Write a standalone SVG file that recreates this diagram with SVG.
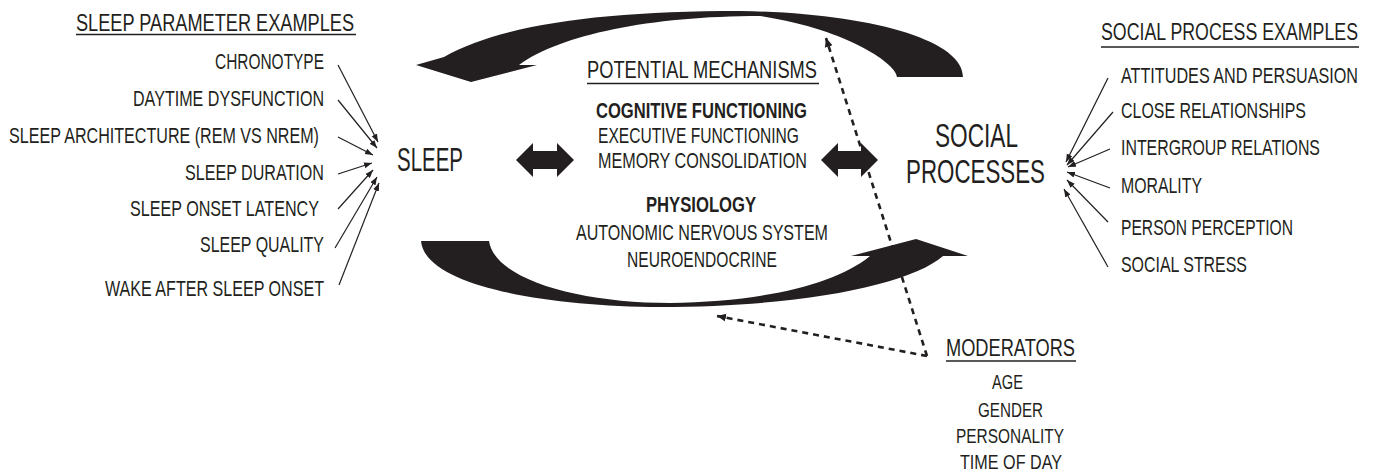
<svg xmlns="http://www.w3.org/2000/svg" width="1375" height="474" viewBox="0 0 1375 474">
<style>
text{font-family:"Liberation Sans",Arial,sans-serif;fill:#231f20;}
.hd{font-size:23.5px;}
.it{font-size:22px;}
.md{font-size:20.5px;}
.bd{font-size:22px;font-weight:bold;}
.big{font-size:33px;}
.ul{stroke:#231f20;stroke-width:1.3;}
.thin{stroke:#231f20;stroke-width:1.2;fill:none;marker-end:url(#sm);}
.dot{stroke:#231f20;stroke-width:2.6;fill:none;stroke-dasharray:6 5;marker-end:url(#dm);}
.solid{fill:#231f20;}
</style>
<defs>
<marker id="sm" markerUnits="userSpaceOnUse" markerWidth="9" markerHeight="7" refX="8" refY="3.5" orient="auto">
<path d="M0,0.5 L8,3.5 L0,6.5 Z" fill="#231f20"/>
</marker>
<marker id="dm" markerUnits="userSpaceOnUse" markerWidth="11" markerHeight="9" refX="9" refY="4.5" orient="auto">
<path d="M0,0.5 L9,4.5 L0,8.5 Z" fill="#231f20"/>
</marker>
</defs>
<rect width="1375" height="474" fill="#ffffff"/>

<g id="connectors">
<path class="solid" d="M963,77 L897,77 C897,65 850,30 760,16 C650,16 560,35 519,65 L537,65 L471,82 L416,65 L444,57 C500,25 600,11 740,11 C870,13 963,40 963,77 Z"/>
<path class="solid" d="M421,241 L489,241 C495,280 580,303 670,303 C760,302 835,285 870,256 L851,256 L916,239 L968,256 L943,256 C910,285 800,307 660,307 C540,306 425,285 421,241 Z"/>
<path class="solid" d="M516,160 L533,143 L533,151 L557,151 L557,143 L574,160 L557,177 L557,169 L533,169 L533,177 Z"/>
<path class="solid" d="M821,160 L838,143 L838,151 L861,151 L861,143 L878,160 L861,177 L861,169 L838,169 L838,177 Z"/>
<line class="thin" x1="338" y1="65" x2="378" y2="142"/>
<line class="thin" x1="338" y1="100" x2="377" y2="148"/>
<line class="thin" x1="338" y1="137" x2="373" y2="155"/>
<line class="thin" x1="338" y1="174" x2="372" y2="163"/>
<line class="thin" x1="338" y1="209" x2="373" y2="170"/>
<line class="thin" x1="335" y1="248" x2="377" y2="177"/>
<line class="thin" x1="339" y1="285" x2="379" y2="183"/>
<line class="thin" x1="1108" y1="78" x2="1066" y2="162"/>
<line class="thin" x1="1113" y1="112" x2="1067" y2="165"/>
<line class="thin" x1="1110" y1="149" x2="1068" y2="167"/>
<line class="thin" x1="1110" y1="188" x2="1067" y2="172"/>
<line class="thin" x1="1108" y1="222" x2="1067" y2="180"/>
<line class="thin" x1="1108" y1="267" x2="1064" y2="189"/>
<path class="dot" d="M927,356 L826,38"/>
<path class="dot" d="M927,356 L717,316"/>
</g>

<g id="sleep-parameters">
<text class="hd" transform="translate(76,31) scale(0.75,1)" textLength="370.7" lengthAdjust="spacingAndGlyphs">SLEEP PARAMETER EXAMPLES</text>
<line class="ul" x1="76" y1="34.5" x2="356" y2="34.5"/>
<text class="it" transform="translate(215,69) scale(0.75,1)" textLength="145.3" lengthAdjust="spacingAndGlyphs">CHRONOTYPE</text>
<text class="it" transform="translate(133,106) scale(0.75,1)" textLength="254.7" lengthAdjust="spacingAndGlyphs">DAYTIME DYSFUNCTION</text>
<text class="it" transform="translate(9,143) scale(0.75,1)" textLength="413.3" lengthAdjust="spacingAndGlyphs">SLEEP ARCHITECTURE (REM VS NREM)</text>
<text class="it" transform="translate(185,180) scale(0.75,1)" textLength="185.3" lengthAdjust="spacingAndGlyphs">SLEEP DURATION</text>
<text class="it" transform="translate(130,216) scale(0.75,1)" textLength="252" lengthAdjust="spacingAndGlyphs">SLEEP ONSET LATENCY</text>
<text class="it" transform="translate(200,252) scale(0.75,1)" textLength="165.3" lengthAdjust="spacingAndGlyphs">SLEEP QUALITY</text>
<text class="it" transform="translate(105,296) scale(0.75,1)" textLength="292" lengthAdjust="spacingAndGlyphs">WAKE AFTER SLEEP ONSET</text>
</g>

<g id="sleep">
<text class="big" transform="translate(397,171) scale(0.75,1)" textLength="88" lengthAdjust="spacingAndGlyphs">SLEEP</text>
</g>

<g id="mechanisms">
<text class="hd" transform="translate(587,78) scale(0.75,1)" textLength="306.7" lengthAdjust="spacingAndGlyphs">POTENTIAL MECHANISMS</text>
<line class="ul" x1="587" y1="83.5" x2="819" y2="83.5"/>
<text class="bd" transform="translate(596,118) scale(0.75,1)" textLength="281.3" lengthAdjust="spacingAndGlyphs">COGNITIVE FUNCTIONING</text>
<text class="it" transform="translate(598,143) scale(0.75,1)" textLength="268" lengthAdjust="spacingAndGlyphs">EXECUTIVE FUNCTIONING</text>
<text class="it" transform="translate(598,168) scale(0.75,1)" textLength="278.7" lengthAdjust="spacingAndGlyphs">MEMORY CONSOLIDATION</text>
<text class="bd" transform="translate(646,212) scale(0.75,1)" textLength="146.7" lengthAdjust="spacingAndGlyphs">PHYSIOLOGY</text>
<text class="it" transform="translate(576,240) scale(0.75,1)" textLength="336" lengthAdjust="spacingAndGlyphs">AUTONOMIC NERVOUS SYSTEM</text>
<text class="it" transform="translate(627,267) scale(0.75,1)" textLength="200" lengthAdjust="spacingAndGlyphs">NEUROENDOCRINE</text>
</g>

<g id="social-processes">
<text class="big" transform="translate(935,147) scale(0.75,1)" textLength="110.7" lengthAdjust="spacingAndGlyphs">SOCIAL</text>
<text class="big" transform="translate(906,183) scale(0.75,1)" textLength="185.3" lengthAdjust="spacingAndGlyphs">PROCESSES</text>
</g>

<g id="social-examples">
<text class="hd" transform="translate(1101,40) scale(0.75,1)" textLength="342.7" lengthAdjust="spacingAndGlyphs">SOCIAL PROCESS EXAMPLES</text>
<line class="ul" x1="1101" y1="47" x2="1359" y2="47"/>
<text class="it" transform="translate(1121,83) scale(0.75,1)" textLength="316" lengthAdjust="spacingAndGlyphs">ATTITUDES AND PERSUASION</text>
<text class="it" transform="translate(1121,118) scale(0.75,1)" textLength="246.7" lengthAdjust="spacingAndGlyphs">CLOSE RELATIONSHIPS</text>
<text class="it" transform="translate(1121,155) scale(0.75,1)" textLength="265.3" lengthAdjust="spacingAndGlyphs">INTERGROUP RELATIONS</text>
<text class="it" transform="translate(1121,193) scale(0.75,1)" textLength="108" lengthAdjust="spacingAndGlyphs">MORALITY</text>
<text class="it" transform="translate(1121,235) scale(0.75,1)" textLength="229.3" lengthAdjust="spacingAndGlyphs">PERSON PERCEPTION</text>
<text class="it" transform="translate(1121,272) scale(0.75,1)" textLength="168" lengthAdjust="spacingAndGlyphs">SOCIAL STRESS</text>
</g>

<g id="moderators">
<text class="hd" transform="translate(946,356) scale(0.75,1)" textLength="172" lengthAdjust="spacingAndGlyphs">MODERATORS</text>
<line class="ul" x1="946" y1="361" x2="1076" y2="361"/>
<text class="md" transform="translate(992,389) scale(0.75,1)" textLength="41.3" lengthAdjust="spacingAndGlyphs">AGE</text>
<text class="md" transform="translate(978,417) scale(0.75,1)" textLength="86.7" lengthAdjust="spacingAndGlyphs">GENDER</text>
<text class="md" transform="translate(956,443) scale(0.75,1)" textLength="144" lengthAdjust="spacingAndGlyphs">PERSONALITY</text>
<text class="md" transform="translate(960,469) scale(0.75,1)" textLength="136" lengthAdjust="spacingAndGlyphs">TIME OF DAY</text>
</g>
</svg>
